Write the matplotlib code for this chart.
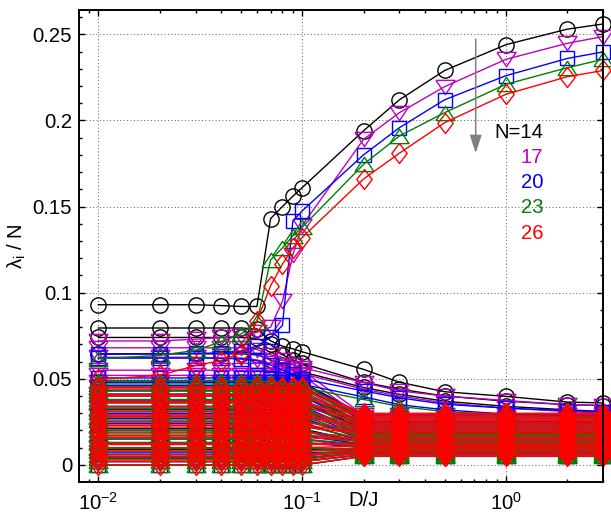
import numpy as np
import matplotlib
matplotlib.use('Agg')
import matplotlib.pyplot as plt
from matplotlib.ticker import FixedLocator, MultipleLocator, LogLocator, NullFormatter
from matplotlib.transforms import blended_transform_factory

plt.rcParams['font.family'] = ['Liberation Sans', 'DejaVu Sans']
plt.rcParams['mathtext.fontset'] = 'custom'
plt.rcParams['mathtext.rm'] = 'Liberation Sans'
plt.rcParams['mathtext.it'] = 'Liberation Sans:italic'

# D/J values
x = [0.01, 0.02, 0.03, 0.04, 0.05, 0.06, 0.07, 0.08, 0.09, 0.1, 0.2, 0.3, 0.5, 1, 2, 3]

sizes = [14, 17, 20, 23, 26]

# leading eigenvalues (full curves)
k_top = [
    [0.093, 0.093, 0.093, 0.0925, 0.092, 0.092, 0.143, 0.150, 0.156, 0.161, 0.194, 0.212, 0.229, 0.244, 0.253, 0.256],
    [0.0795, 0.0795, 0.0795, 0.0795, 0.0795, 0.0790, 0.0720, 0.0690, 0.0674, 0.0657, 0.0555, 0.0480, 0.0425, 0.0398, 0.0365, 0.0360],
    [0.0740, 0.0740, 0.0740, 0.0740, 0.0740, 0.0735, 0.0700, 0.0640, 0.0610, 0.0590, 0.0480, 0.0440, 0.0400, 0.0370, 0.0350, 0.0345],
    [0.0645, 0.0645, 0.0645, 0.0645, 0.0645, 0.0640, 0.0610, 0.0580, 0.0560, 0.0540, 0.0450, 0.0410, 0.0370, 0.0340, 0.0320, 0.0310],
]
m_top = [
    [0.072, 0.072, 0.073, 0.074, 0.075, 0.077, 0.080, 0.095, 0.122, 0.139, 0.189, 0.2045, 0.2196, 0.2355, 0.2448, 0.2487],
    [0.068, 0.068, 0.068, 0.068, 0.068, 0.067, 0.064, 0.061, 0.058, 0.0565, 0.0478, 0.043, 0.040, 0.0374, 0.0350, 0.0345],
    [0.0625, 0.0625, 0.0625, 0.062, 0.062, 0.061, 0.059, 0.057, 0.055, 0.053, 0.044, 0.040, 0.036, 0.033, 0.031, 0.030],
]
b_top = [
    [0.0642, 0.0645, 0.0648, 0.065, 0.066, 0.069, 0.074, 0.081, 0.1416, 0.1475, 0.180, 0.1958, 0.212, 0.226, 0.236, 0.2398],
    [0.0620, 0.0620, 0.0620, 0.0620, 0.0615, 0.0605, 0.0580, 0.0550, 0.0530, 0.0500, 0.0430, 0.0390, 0.0352, 0.0330, 0.0315, 0.0310],
    [0.0505, 0.0505, 0.0505, 0.0505, 0.0505, 0.0505, 0.0505, 0.0500, 0.0490, 0.0468, 0.0395, 0.0350, 0.0320, 0.0295, 0.0285, 0.0280],
]
g_top = [
    [0.0616, 0.0636, 0.0665, 0.0715, 0.076, 0.083, 0.119, 0.126, 0.133, 0.138, 0.1745, 0.191, 0.2045, 0.221, 0.2306, 0.2355],
    [0.0490, 0.0490, 0.0490, 0.0490, 0.0490, 0.0490, 0.0480, 0.0470, 0.0460, 0.0450, 0.0380, 0.0340, 0.0310, 0.0290, 0.0280, 0.0275],
]
r_top = [
    [0.0497, 0.052, 0.0577, 0.0606, 0.065, 0.0836, 0.104, 0.1165, 0.126, 0.132, 0.166, 0.181, 0.1987, 0.2152, 0.2254, 0.229],
]

# remaining eigenvalues: level for D/J <= 0.1 and level for D/J >= 0.2
k_lo = [0.048, 0.045, 0.041, 0.037, 0.032, 0.027, 0.021, 0.015, 0.009, 0.004]
k_hi = [0.029, 0.027, 0.024, 0.021, 0.018, 0.015, 0.013, 0.011, 0.009, 0.007]
m_lo = [0.055, 0.052, 0.048, 0.045, 0.041, 0.037, 0.033, 0.029, 0.025, 0.020, 0.015, 0.010, 0.006, 0.002]
m_hi = [0.029, 0.027, 0.025, 0.023, 0.021, 0.019, 0.017, 0.015, 0.013, 0.011, 0.010, 0.008, 0.007, 0.006]
b_lo = [0.048, 0.046, 0.043, 0.040, 0.037, 0.034, 0.030, 0.027, 0.024, 0.020, 0.017, 0.013, 0.010, 0.007, 0.004, 0.002, 0.000]
b_hi = [0.027, 0.025, 0.024, 0.022, 0.020, 0.019, 0.017, 0.016, 0.014, 0.013, 0.012, 0.010, 0.009, 0.008, 0.007, 0.006, 0.005]
g_lo = [0.047, 0.045, 0.043, 0.041, 0.038, 0.036, 0.033, 0.031, 0.028, 0.026, 0.023, 0.020, 0.018, 0.015,
        0.013, 0.010, 0.008, 0.006, 0.004, 0.002, 0.000]
g_hi = [0.027, 0.026, 0.024, 0.023, 0.022, 0.020, 0.019, 0.018, 0.017, 0.016, 0.015, 0.014, 0.013, 0.012,
        0.011, 0.010, 0.009, 0.008, 0.007, 0.006, 0.005]
r_lo = [0.045, 0.044, 0.041, 0.040, 0.037, 0.036, 0.034, 0.031, 0.029, 0.028, 0.025, 0.023, 0.022, 0.019,
        0.017, 0.016, 0.013, 0.012, 0.010, 0.008, 0.006, 0.005, 0.003, 0.002, 0.000]
r_hi = [0.030, 0.029, 0.028, 0.027, 0.026, 0.025, 0.024, 0.023, 0.022, 0.021, 0.020, 0.019, 0.018, 0.016,
        0.015, 0.014, 0.013, 0.012, 0.011, 0.010, 0.009, 0.008, 0.007, 0.006, 0.005]

tops = [k_top, m_top, b_top, g_top, r_top]
los = [k_lo, m_lo, b_lo, g_lo, r_lo]
his = [k_hi, m_hi, b_hi, g_hi, r_hi]
colors = ['k', '#bf00bf', '#0000ff', '#008000', '#ff0000']

tri_down = [(-1, 0.75), (1, 0.75), (0, -0.75), (-1, 0.75)]
tri_up = [(-1, -0.75), (1, -0.75), (0, 0.75), (-1, -0.75)]
diamond = [(0, 1), (0.77, 0), (0, -1), (-0.77, 0), (0, 1)]
markers = ['o', tri_down, 's', tri_up, diamond]
msizes = [11, 13.7, 9.7, 13.7, 14.4]

n_low = sum(1 for v in x if v <= 0.1)

fig = plt.figure(figsize=(6.11, 5.16), dpi=100)
ax = fig.add_axes([0.1293, 0.0659, 0.8581, 0.9147])

for top, lo, hi, c, mk, ms in zip(tops, los, his, colors, markers, msizes):
    curves = list(top) + [[a] * n_low + [b] * (len(x) - n_low) for a, b in zip(lo, hi)]
    for y in curves:
        ax.plot(x, y, color=c, lw=1.0, marker=mk, ms=ms, mfc='none', mec=c, mew=1.0, clip_on=False)

ax.set_xscale('log')
ax.set_xlim(0.00804, 3.0)
ax.set_ylim(-0.0099, 0.2641)

ax.yaxis.set_major_locator(FixedLocator([0, 0.05, 0.1, 0.15, 0.2, 0.25]))
ax.set_yticklabels(['0', '0.05', '0.1', '0.15', '0.2', '0.25'])
ax.yaxis.set_minor_locator(MultipleLocator(0.01))
ax.xaxis.set_major_locator(LogLocator(base=10))
ax.xaxis.set_minor_locator(LogLocator(base=10, subs=np.arange(2, 10)))
ax.xaxis.set_minor_formatter(NullFormatter())

ax.tick_params(which='both', direction='in', top=True, right=True, labelsize=14.6, width=1.0)
ax.tick_params(which='major', length=4)
ax.tick_params(which='minor', length=2.5)
ax.tick_params(axis='x', pad=7)
ax.tick_params(axis='y', pad=5)
for s in ax.spines.values():
    s.set_linewidth(1.4)

ax.grid(True, which='major', color='0.35', linestyle=(0, (1, 2.5)), linewidth=0.7)
ax.set_axisbelow(True)

ax.set_ylabel('λ$_\\mathregular{i}$ / N', fontsize=14.6, labelpad=3)
tr = blended_transform_factory(ax.transData, fig.transFigure)
ax.text(0.2, 0.02, 'D/J', transform=tr, ha='center', va='baseline', fontsize=14.6)

ax.annotate('', xy=(0.71, 0.181), xytext=(0.71, 0.2472),
            arrowprops=dict(arrowstyle='-|>,head_length=0.55,head_width=0.18',
                            color='0.5', lw=1.1, mutation_scale=20, shrinkA=0, shrinkB=0))

labels = ['N=14', '17', '20', '23', '26']
label_y = [0.193, 0.1787, 0.1642, 0.1494, 0.1344]
for t, yy, c in zip(labels, label_y, colors):
    ax.text(1.52, yy, t, color=c, ha='right', va='center', fontsize=14.6)

fig.savefig('out.png', dpi=100)
